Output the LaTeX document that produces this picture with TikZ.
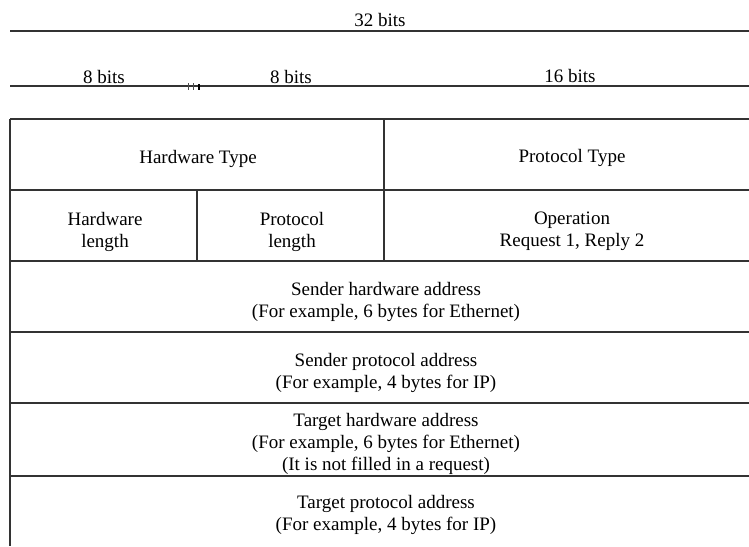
\documentclass[tikz,border=0pt]{standalone}
\usepackage{fontspec}
\setmainfont{Liberation Serif}
\begin{document}
\begin{tikzpicture}[x=1pt,y=-1pt,
  rule/.style={draw=black!80,line width=1.3pt},
  lbl/.style={font=\fontsize{19}{22}\selectfont,align=center,inner sep=0pt,text=black}]
\useasboundingbox (0,0) rectangle (749,546);
% header rules
\draw[rule] (10,31) -- (749,31);
\draw[rule] (10,86) -- (749,86);
\draw[black!70,line width=0.8pt] (188,83) -- (188,90) (193,83) -- (193,90);
\draw[black,line width=1.5pt] (199,84) -- (199,90);
\node[lbl] (b32) at (380,20) {32 bits};
\node[lbl] (b8a) at (104,77) {8 bits};
\node[lbl] (b8b) at (291,77) {8 bits};
\node[lbl] (b16) at (570,76) {16 bits};
% table
\draw[rule] (10,119) -- (749,119);
\draw[rule] (10,190) -- (749,190);
\draw[rule] (10,261) -- (749,261);
\draw[rule] (10,332) -- (749,332);
\draw[rule] (10,403) -- (749,403);
\draw[rule] (10,476) -- (749,476);
\draw[rule] (10,119) -- (10,546);
\draw[rule] (384,119) -- (384,261);
\draw[rule] (197,190) -- (197,261);
\node[lbl] (hwt) at (198,159) {Hardware Type};
\node[lbl] (prt) at (572,158) {Protocol Type};
\node[lbl] (hwl) at (105,232) {Hardware\\length};
\node[lbl] (prl) at (292,232) {Protocol\\length};
\node[lbl] (op) at (572,231) {Operation\\Request 1, Reply 2};
\node[lbl] (sha) at (386,302) {Sender hardware address\\(For example, 6 bytes for Ethernet)};
\node[lbl] (spa) at (386,373) {Sender protocol address\\(For example, 4 bytes for IP)};
\node[lbl] (tha) at (386,444) {Target hardware address\\(For example, 6 bytes for Ethernet)\\(It is not filled in a request)};
\node[lbl] (tpa) at (386,515) {Target protocol address\\(For example, 4 bytes for IP)};
\end{tikzpicture}
\end{document}
